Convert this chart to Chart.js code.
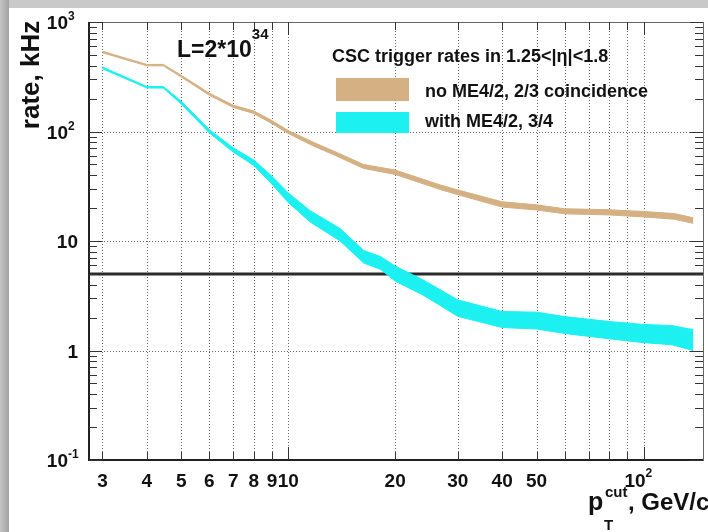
<!DOCTYPE html>
<html>
<head>
<meta charset="utf-8">
<script src="https://cdn.jsdelivr.net/npm/chart.js@4/dist/chart.umd.min.js"></script>
<style>
    body { margin: 0; width: 708px; height: 532px; position: relative; overflow: hidden;
           background: linear-gradient(90deg, #c4c4c4 0px, #a2a2a2 9px, #c9c9c9 9px); }
    #panel { position: absolute; left: 9px; top: 8px; width: 699px; height: 524px; background: #fff; }
    #rateChart { position: absolute; left: 0; top: 0; }
</style>
</head>
<body>
<div id="panel"></div>
<canvas id="rateChart" width="708" height="532"></canvas>
<script>
// pT cut (GeV/c) and rate band edges (kHz)
const ptCutNoME42 = [3, 4, 4.45, 5, 6, 7, 8, 9, 10, 11.8, 13.4, 16.3, 20, 26.8, 30, 40, 50, 60, 80, 100, 122, 138];
const rateNoME42Hi = [540, 410, 410, 326, 224, 174, 154, 126, 102, 79.5, 66.5, 50, 44.5, 32.5, 29.3, 22.8, 21.4, 19.7, 19.3, 18.6, 17.8, 16.3];
const rateNoME42Lo = [524, 398, 398, 314, 214, 166, 146, 118, 96, 73.5, 61.5, 46, 40.5, 29.5, 26.5, 20.4, 19.2, 17.7, 17.3, 16.6, 15.8, 14.5];

const ptCutME42 = [3, 4, 4.45, 5, 6, 7, 8, 9, 10, 11.5, 14, 16.3, 18.2, 20, 24, 30, 40, 50, 60, 80, 100, 120, 138];
const rateME42Hi = [388, 258, 258, 189, 104, 71, 55, 39, 27.5, 19, 13, 8.2, 7.2, 5.9, 4.4, 2.9, 2.27, 2.24, 2.04, 1.84, 1.73, 1.69, 1.55];
const rateME42Lo = [374, 250, 249, 178, 97, 65, 49, 33, 22.5, 15, 10, 6.3, 5.5, 4.3, 3.2, 2.05, 1.62, 1.57, 1.43, 1.28, 1.18, 1.13, 1.0];

const thresholdRate = 5;
const xRange = [2.75, 147];
const yRange = [0.1, 1000];

const xTicks = [3, 4, 5, 6, 7, 8, 9, 10, 20, 30, 40, 50, 60, 70, 80, 90, 100];
const xMajor = [10, 100];
const xLabelValues = [3, 4, 5, 6, 7, 8, 9, 10, 20, 30, 40, 50, 100];
const xLabelTexts = [['3'], ['4'], ['5'], ['6'], ['7'], ['8'], ['9'], ['10'], ['20'], ['30'], ['40'], ['50'], ['10', '2']];
const yDecades = [0.1, 1, 10, 100, 1000];
const yLabelTexts = [['10', '-1'], ['1'], ['10'], ['10', '2'], ['10', '3']];
const yMinorSteps = [2, 3, 4, 5, 6, 7, 8, 9];

const BROWN = '#d4b083';
const CYAN = '#1cf0f0';
const FONT = '"Liberation Sans", Arial, sans-serif';

const pts = (xs, ys) => xs.map((x, i) => ({ x, y: ys[i] }));

function bandEdge(xs, ys, color, fill) {
    return {
        data: pts(xs, ys),
        borderColor: color,
        borderWidth: 1,
        backgroundColor: color,
        pointRadius: 0,
        tension: 0,
        fill: fill,
    };
}

const framePlugin = {
    id: 'rootFrame',
    beforeDatasetsDraw(chart) {
        const { ctx, chartArea: a, scales: { x, y } } = chart;
        ctx.save();
        ctx.strokeStyle = '#6a6a6a';
        ctx.lineWidth = 1;
        ctx.setLineDash([1, 2]);
        xTicks.forEach((v) => {
            const px = Math.round(x.getPixelForValue(v)) + 0.5;
            ctx.beginPath();
            ctx.moveTo(px, a.top);
            ctx.lineTo(px, a.bottom);
            ctx.stroke();
        });
        [1, 10, 100].forEach((v) => {
            const py = Math.round(y.getPixelForValue(v)) + 0.5;
            ctx.beginPath();
            ctx.moveTo(a.left, py);
            ctx.lineTo(a.right, py);
            ctx.stroke();
        });
        ctx.restore();
    },
    afterDatasetsDraw(chart) {
        const { ctx, chartArea: a, scales: { x, y } } = chart;
        ctx.save();
        ctx.setLineDash([]);

        // frame
        ctx.strokeStyle = '#666';
        ctx.lineWidth = 1;
        ctx.strokeRect(a.left + 0.5, a.top + 0.5, a.right - a.left, a.bottom - a.top);
        ctx.strokeStyle = '#222';
        ctx.lineWidth = 2;
        ctx.beginPath();
        ctx.moveTo(a.left, a.top);
        ctx.lineTo(a.left, a.bottom);
        ctx.lineTo(a.right, a.bottom);
        ctx.stroke();

        // tick marks
        ctx.lineWidth = 1;
        ctx.strokeStyle = '#333';
        const tickY = (v, len) => {
            const py = Math.round(y.getPixelForValue(v)) + 0.5;
            ctx.beginPath();
            ctx.moveTo(a.left, py); ctx.lineTo(a.left + len, py);
            ctx.moveTo(a.right, py); ctx.lineTo(a.right - len, py);
            ctx.stroke();
        };
        yDecades.forEach((d) => {
            tickY(d, 13);
            if (d < 1000) yMinorSteps.forEach((m) => tickY(d * m, 8));
        });
        xTicks.forEach((v) => {
            const len = xMajor.includes(v) ? 13 : 8;
            const px = Math.round(x.getPixelForValue(v)) + 0.5;
            ctx.beginPath();
            ctx.moveTo(px, a.bottom); ctx.lineTo(px, a.bottom - len);
            ctx.moveTo(px, a.top); ctx.lineTo(px, a.top + len);
            ctx.stroke();
        });

        ctx.fillStyle = '#111';
        ctx.textBaseline = 'alphabetic';

        // y labels
        yDecades.forEach((v, i) => {
            const py = y.getPixelForValue(v);
            const [base, exp] = yLabelTexts[i];
            ctx.font = 'bold 19px ' + FONT;
            ctx.textAlign = 'right';
            if (exp) {
                ctx.fillText(base, 68, py + 7);
                ctx.font = 'bold 12px ' + FONT;
                ctx.textAlign = 'left';
                ctx.fillText(exp, 68, py - 2);
            } else {
                ctx.fillText(base, 78, py + 7);
            }
        });

        // x labels
        xLabelValues.forEach((v, i) => {
            const px = x.getPixelForValue(v);
            const [base, exp] = xLabelTexts[i];
            ctx.font = 'bold 19px ' + FONT;
            if (exp) {
                ctx.textAlign = 'right';
                ctx.fillText(base, px + 2, 487);
                ctx.font = 'bold 12px ' + FONT;
                ctx.textAlign = 'left';
                ctx.fillText(exp, px + 2, 477);
            } else {
                ctx.textAlign = 'center';
                ctx.fillText(base, px, 487);
            }
        });

        // axis titles
        ctx.save();
        ctx.translate(39, 75);
        ctx.rotate(-Math.PI / 2);
        ctx.textAlign = 'center';
        ctx.font = 'bold 26px ' + FONT;
        ctx.fillText('rate, kHz', 0, 0);
        ctx.restore();

        ctx.textAlign = 'left';
        ctx.font = 'bold 25px ' + FONT;
        ctx.fillText('p', 588, 510);
        ctx.font = 'bold 15px ' + FONT;
        ctx.fillText('cut', 605, 497);
        ctx.fillText('T', 604, 530);
        ctx.font = 'bold 24px ' + FONT;
        ctx.fillText(', GeV/c', 628, 510);

        // luminosity
        ctx.font = 'bold 23px ' + FONT;
        ctx.fillText('L=2*10', 177, 57);
        const lw = ctx.measureText('L=2*10').width;
        ctx.font = 'bold 15px ' + FONT;
        ctx.fillText('34', 177 + lw, 39);

        // legend
        ctx.font = 'bold 18px ' + FONT;
        ctx.fillText('CSC trigger rates in 1.25<|\u03b7|<1.8', 332, 62);
        ctx.fillStyle = BROWN;
        ctx.fillRect(336, 78, 73, 23);
        ctx.fillStyle = CYAN;
        ctx.fillRect(336, 112, 73, 21);
        ctx.fillStyle = '#111';
        ctx.fillText('no ME4/2, 2/3 coincidence', 425, 97);
        ctx.fillText('with ME4/2, 3/4', 425, 127);
        ctx.restore();
    },
};

new Chart(document.getElementById('rateChart').getContext('2d'), {
    type: 'line',
    data: {
        datasets: [
            bandEdge(ptCutNoME42, rateNoME42Hi, BROWN, false),
            bandEdge(ptCutNoME42, rateNoME42Lo, BROWN, '-1'),
            bandEdge(ptCutME42, rateME42Hi, CYAN, false),
            bandEdge(ptCutME42, rateME42Lo, CYAN, '-1'),
            {
                data: pts(xRange, [thresholdRate, thresholdRate]),
                borderColor: '#2a2a2a',
                borderWidth: 3,
                pointRadius: 0,
                fill: false,
            },
        ],
    },
    options: {
        responsive: false,
        animation: false,
        devicePixelRatio: 1,
        layout: { padding: { left: 89, top: 22, right: 5, bottom: 72 } },
        plugins: { legend: { display: false }, tooltip: { enabled: false } },
        scales: {
            x: { type: 'logarithmic', display: false, min: xRange[0], max: xRange[1] },
            y: { type: 'logarithmic', display: false, min: yRange[0], max: yRange[1] },
        },
    },
    plugins: [framePlugin],
});
</script>
</body>
</html>
